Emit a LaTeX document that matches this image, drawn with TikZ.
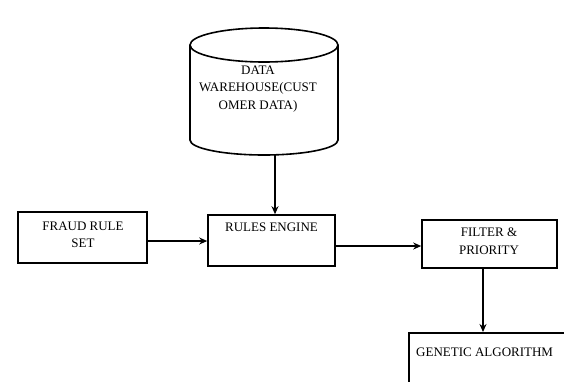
\documentclass[tikz,border=0pt]{standalone}
\usepackage{fontspec}
\setmainfont{Liberation Serif}
\usetikzlibrary{arrows.meta,calc}
\begin{document}
\begin{tikzpicture}[x=1pt,y=-1pt,
  box/.style={draw,line width=1.6pt,rectangle,inner sep=0pt},
  txt/.style={font=\fontsize{13}{17.5}\selectfont,align=center,inner sep=0pt},
  arr/.style={line width=1.9pt,-{Stealth[length=8pt,width=7pt]}}]
\useasboundingbox (0,0) rectangle (564,381);
\clip (0,0) rectangle (564,381);
% cylinder
\draw[line width=1.6pt] (264,45) ellipse[x radius=74pt, y radius=17pt];
\draw[line width=1.6pt] (190,45) -- (190,140) arc[start angle=180, end angle=360, x radius=74pt, y radius=15pt] -- (338,45);
\node[txt] (dw) at (258,89) {DATA\\WAREHOUSE(CUST\\OMER DATA)};
\coordinate (cylbot) at (275,154.5);
% boxes
\node[box,minimum width=129pt,minimum height=51pt] (fraud) at (82.5,237.5) {};
\node[txt] (fraudt) at (83,235) {FRAUD RULE\\SET};
\node[box,minimum width=127pt,minimum height=51pt] (rules) at (271.5,240.5) {};
\node[txt,anchor=north] (rulest) at (271.5,223) {RULES ENGINE};
\node[box,minimum width=135pt,minimum height=48pt] (filter) at (489.5,244) {};
\node[txt] (filtert) at (489,241) {FILTER \&\\PRIORITY};
\node[box,minimum width=200pt,minimum height=80pt,anchor=north west] (ga) at (408,332) {};
\node[txt,anchor=west] (gat) at (416,352) {GENETIC ALGORITHM};
% connectors
\draw[arr] (cylbot) -- (cylbot |- rules.north);
\draw[arr] (fraud.east |- 0,241) -- (rules.west |- 0,241);
\draw[arr] (rules.east |- 0,246) -- (filter.west |- 0,246);
\draw[arr] (filter.south -| 483,0) -- (ga.north -| 483,0);
\end{tikzpicture}
\end{document}
